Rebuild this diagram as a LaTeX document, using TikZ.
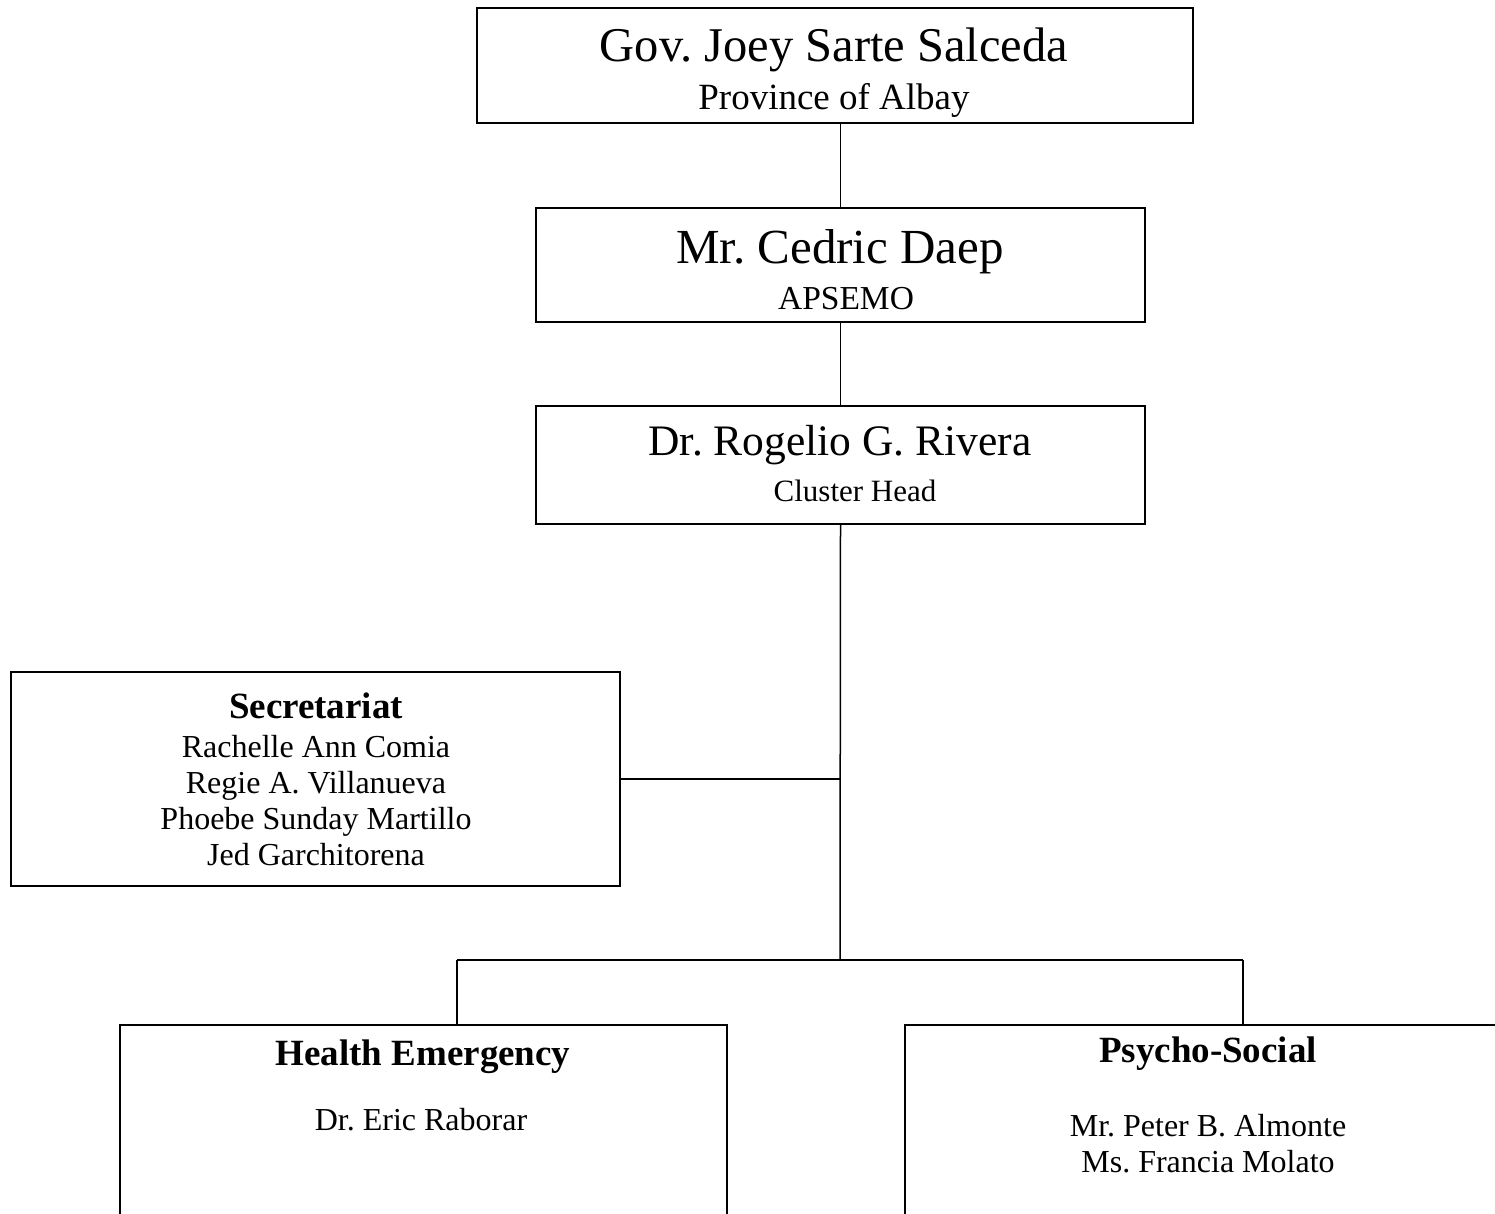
\documentclass[tikz,border=0pt]{standalone}
\usepackage{fontspec}
\setmainfont{Liberation Serif}
\frenchspacing
\begin{document}
\begin{tikzpicture}[x=1pt,y=-1pt,
  box/.style={draw,line width=1.5pt,rectangle,inner sep=0pt},
  conn/.style={line width=1.5pt},
  head/.style={font=\fontsize{37}{40}\selectfont\bfseries},
  names/.style={font=\fontsize{32}{36}\selectfont,align=center},
  txt/.style={inner sep=0pt,anchor=center}]
\clip (0,0) rectangle (1495,1214);
\useasboundingbox (0,0) rectangle (1495,1214);
% boxes
\node[box,minimum width=716pt,minimum height=115pt] (gov) at (835,65.5) {};
\node[box,minimum width=609pt,minimum height=114pt] (daep) at (840.5,265) {};
\node[box,minimum width=609pt,minimum height=118pt] (rivera) at (840.5,465) {};
\node[box,minimum width=609pt,minimum height=214pt] (sec) at (315.5,779) {};
\node[box,minimum width=607pt,minimum height=215pt] (health) at (423.5,1132.5) {};
\node[box,minimum width=605pt,minimum height=215pt] (psycho) at (1207.5,1132.5) {};
% texts
\node[txt,font=\fontsize{48.5}{52}\selectfont] (govname) at (834,50) {Gov. Joey Sarte Salceda};
\node[txt,font=\fontsize{37}{40}\selectfont] (govtitle) at (834,100) {Province of Albay};
\node[txt,font=\fontsize{49}{52}\selectfont] (daepname) at (840,252) {Mr. Cedric Daep};
\node[txt,font=\fontsize{33.5}{38}\selectfont] (daeptitle) at (846,299) {APSEMO};
\node[txt,font=\fontsize{43.5}{48}\selectfont] (rivname) at (840,445) {Dr. Rogelio G. Rivera};
\node[txt,font=\fontsize{31}{36}\selectfont] (rivtitle) at (855,491) {Cluster Head};
\node[txt,head] (sechead) at (316,706) {Secretariat};
\node[txt,names] (secnames) at (316,801) {Rachelle Ann Comia\\Regie A. Villanueva\\Phoebe Sunday Martillo\\Jed Garchitorena};
\node[txt,head] (healthhead) at (423,1057) {Health Emergency};
\node[txt,names] (healthnames) at (421,1120) {Dr. Eric Raborar};
\node[txt,head] (psyhead) at (1208,1054) {Psycho-Social};
\node[txt,names] (psynames) at (1208,1144) {Mr. Peter B. Almonte\\Ms. Francia Molato};
% connectors
\coordinate (j) at (840,960);
\coordinate (hl) at (457,960);
\coordinate (pl) at (1243,960);
\draw[conn] (daep.north |- gov.south) -- (daep.north);
\draw[conn] (daep.south) -- (rivera.north);
\draw[conn] (rivera.south) -- (j);
\draw[conn] (sec.east) -- (sec.east -| j);
\draw[conn] (hl) -- (pl);
\draw[conn] (hl) -- (hl |- health.north);
\draw[conn] (pl) -- (pl |- psycho.north);
\end{tikzpicture}
\end{document}
